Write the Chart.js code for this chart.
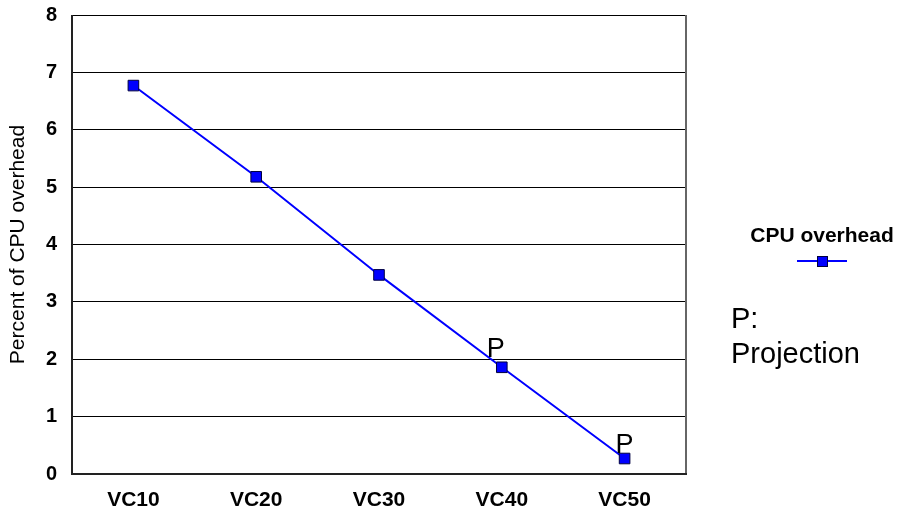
<!DOCTYPE html>
<html>
<head>
<meta charset="utf-8">
<script src="https://cdn.jsdelivr.net/npm/chart.js@4/dist/chart.umd.min.js"></script>
<style>
  html, body { margin: 0; padding: 0; background: #ffffff; }
  #wrap { width: 902px; height: 518px; position: relative; }
</style>
</head>
<body>
<div id="wrap"><canvas id="chart" width="902" height="518"></canvas></div>
<script>
// Categories and measured CPU overhead (percent)
const categories = ['VC10', 'VC20', 'VC30', 'VC40', 'VC50'];
const cpuOverhead = [6.77, 5.18, 3.47, 1.86, 0.27];
// Points that are projections rather than measurements
const projected = [false, false, false, true, true];
const yTicks = [0, 1, 2, 3, 4, 5, 6, 7, 8];

const FONT = 'Arial, "Liberation Sans", Helvetica, sans-serif';

// Nudges for the "P" marks relative to their points
const pOffsets = { 3: { dx: -6, dy: -10 }, 4: { dx: 0, dy: -6 } };

// Border round the plot area, "P" markers and the side legend
const decorations = {
  id: 'decorations',
  afterDatasetsDraw(chart) {
    const { ctx, chartArea: a } = chart;
    const meta = chart.getDatasetMeta(0);
    ctx.save();
    // frame: thin top, grey right, heavier left/bottom
    ctx.strokeStyle = '#000';
    ctx.lineWidth = 1;
    ctx.beginPath();
    ctx.moveTo(a.left, a.top + 0.5);
    ctx.lineTo(a.right + 0.5, a.top + 0.5);
    ctx.stroke();
    ctx.strokeStyle = '#666';
    ctx.lineWidth = 2;
    ctx.beginPath();
    ctx.moveTo(a.right, a.top);
    ctx.lineTo(a.right, a.bottom);
    ctx.stroke();
    ctx.strokeStyle = '#222';
    ctx.lineWidth = 2;
    ctx.beginPath();
    ctx.moveTo(a.left, a.top);
    ctx.lineTo(a.left, a.bottom);
    ctx.lineTo(a.right + 1, a.bottom);
    ctx.stroke();

    // "P" above projected points
    ctx.fillStyle = '#000';
    ctx.font = '27px ' + FONT;
    ctx.textAlign = 'center';
    ctx.textBaseline = 'alphabetic';
    meta.data.forEach((pt, i) => {
      if (!projected[i]) return;
      const o = pOffsets[i] || { dx: 0, dy: -8 };
      ctx.fillText('P', pt.x + o.dx, pt.y + o.dy);
    });

    // legend
    const lx = 822;
    ctx.font = 'bold 21px ' + FONT;
    ctx.textAlign = 'center';
    ctx.textBaseline = 'middle';
    ctx.fillText(chart.data.datasets[0].label, lx, 236);
    ctx.strokeStyle = '#0000ff';
    ctx.lineWidth = 2;
    ctx.beginPath();
    ctx.moveTo(lx - 25, 261);
    ctx.lineTo(lx + 25, 261);
    ctx.stroke();
    ctx.fillStyle = '#0000ff';
    ctx.strokeStyle = '#000040';
    ctx.lineWidth = 1;
    ctx.fillRect(lx - 5, 256, 11, 11);
    ctx.strokeRect(lx - 5 + 0.5, 256 + 0.5, 10, 10);

    ctx.fillStyle = '#000';
    ctx.font = '29px ' + FONT;
    ctx.textAlign = 'left';
    ctx.textBaseline = 'alphabetic';
    ctx.fillText('P:', 731, 328);
    ctx.fillText('Projection', 731, 363);
    ctx.restore();
  }
};

new Chart(document.getElementById('chart'), {
  type: 'line',
  plugins: [decorations],
  data: {
    labels: categories,
    datasets: [{
      label: 'CPU overhead',
      data: cpuOverhead,
      borderColor: '#0000ff',
      borderWidth: 2,
      backgroundColor: '#0000ff',
      pointStyle: 'rect',
      pointRadius: 7.5,
      pointHoverRadius: 7.5,
      pointBackgroundColor: '#0000ff',
      pointBorderColor: '#000040',
      pointBorderWidth: 1,
      tension: 0
    }]
  },
  options: {
    responsive: false,
    animation: false,
    devicePixelRatio: 1,
    layout: { padding: { left: 6, right: 216, top: 15, bottom: 0 } },
    plugins: { legend: { display: false }, tooltip: { enabled: false } },
    scales: {
      x: {
        offset: true,
        grid: { display: false, drawTicks: false },
        border: { display: false },
        ticks: { color: '#000', font: { family: FONT, size: 21, weight: 'bold' }, padding: 14 },
        afterFit(s) { s.height = 44; s.paddingLeft = 0; s.paddingRight = 0; }
      },
      y: {
        min: 0,
        max: 8,
        afterBuildTicks(s) { s.ticks = yTicks.map(v => ({ value: v })); },
        grid: { color: '#000', lineWidth: 1, drawTicks: false },
        border: { display: false },
        ticks: { color: '#000', font: { family: FONT, size: 20, weight: 'bold' }, padding: 15 },
        title: {
          display: true,
          text: 'Percent of CPU overhead',
          color: '#000',
          font: { family: FONT, size: 21 },
          padding: { top: 0, bottom: 0 }
        },
        afterFit(s) { s.width = 66; s.paddingTop = 0; s.paddingBottom = 0; }
      }
    }
  }
});
</script>
</body>
</html>
